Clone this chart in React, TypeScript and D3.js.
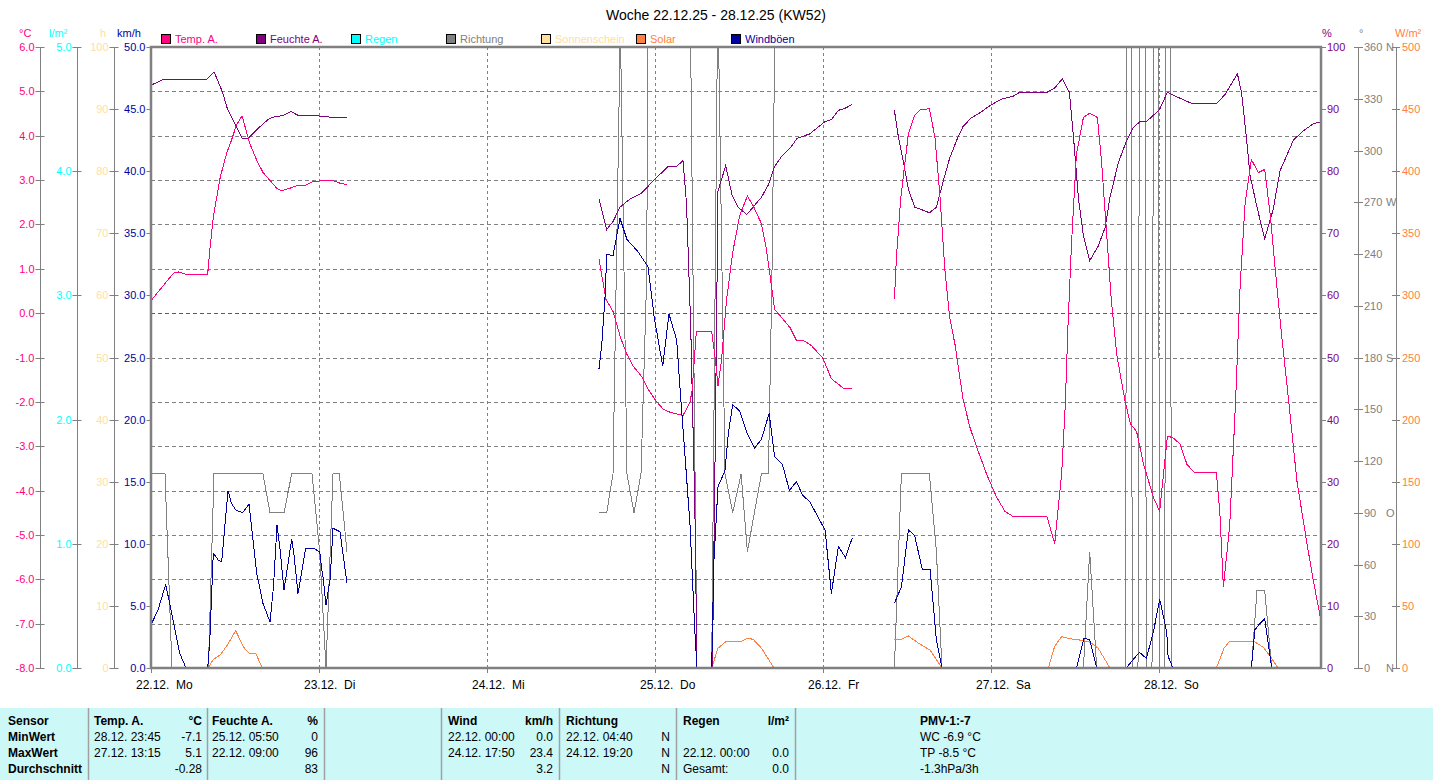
import * as d3 from "d3";

type Pt = [number, number | null];

// time is given in hours since 22.12. 00:00
const title = "Woche 22.12.25 - 28.12.25 (KW52)";
const dayLabels = ["22.12.  Mo", "23.12.  Di", "24.12.  Mi", "25.12.  Do", "26.12.  Fr", "27.12.  Sa", "28.12.  So"];

const tempA: Pt[] = [
  [0.1, 0.3], [1.8, 0.63], [3.2, 0.9], [4.0, 0.93], [4.9, 0.88], [8.1, 0.88], [8.4, 1.42], [8.9, 2.17], [9.9, 3.07],
  [10.8, 3.6], [11.5, 3.9], [12.2, 4.24], [13.0, 4.45], [14.1, 3.83], [15.1, 3.45], [16.0, 3.17], [18.0, 2.81],
  [18.7, 2.76], [20.1, 2.83], [21.0, 2.88], [22.0, 2.88], [23.0, 2.96], [24.6, 2.99], [26.0, 2.99], [27.0, 2.93], [28.0, 2.9],
  [28.1, null],
  [64.0, 1.21], [65.0, 0.31], [66.0, 0.04], [67.1, -0.56], [68.0, -0.93], [68.9, -1.2], [70.1, -1.43], [71.0, -1.71],
  [72.2, -1.99], [73.2, -2.17], [74.1, -2.23], [76.0, -2.31], [77.0, -2.0], [77.3, -1.75], [77.9, -0.42], [80.1, -0.42],
  [80.6, -1.02], [81.0, -1.64], [81.5, -1.06], [82.2, 0.27], [83.1, 1.37], [84.1, 2.2], [85.2, 2.64], [86.0, 2.43],
  [87.2, 2.02], [87.9, 1.46], [88.7, 0.54], [89.1, 0.08], [90.1, -0.1], [91.3, -0.33], [92.2, -0.61], [93.4, -0.63],
  [94.4, -0.74], [96.0, -1.02], [97.2, -1.48], [98.2, -1.6], [99.0, -1.71], [100.1, -1.71],
  [100.2, null],
  [106.2, 0.31], [106.5, 1.28], [107.1, 2.57], [107.5, 3.12], [108.2, 4.04], [109.1, 4.46], [109.9, 4.58], [111.2, 4.61],
  [112.0, 3.95], [112.7, 2.66], [113.4, 1.0], [114.1, -0.1], [114.9, -0.74], [116.0, -1.94], [117.0, -2.58], [118.0, -3.04],
  [119.4, -3.64], [120.8, -4.15], [122.0, -4.47], [123.2, -4.59], [128.0, -4.59], [129.1, -5.2], [130.1, -3.6],
  [130.6, -2.12], [131.0, -0.28], [131.5, 1.56], [132.2, 3.58], [133.2, 4.41], [134.1, 4.51], [135.2, 4.41], [135.8, 3.4],
  [136.5, 1.83], [137.2, 0.27], [138.0, -0.97], [139.1, -1.94], [139.9, -2.49], [140.8, -2.67], [141.8, -3.41],
  [142.5, -3.78], [143.2, -4.15], [144.1, -4.47], [144.6, -3.69], [145.2, -2.77], [146.0, -2.81], [147.0, -2.95],
  [148.0, -3.41], [149.1, -3.6], [152.2, -3.6], [152.7, -4.52], [153.2, -6.17], [154.1, -4.79], [154.9, -2.12],
  [155.6, 0.64], [156.3, 2.48], [157.2, 3.46], [158.2, 3.17], [159.1, 3.24], [159.9, 2.2], [160.6, 1.0], [161.5, -0.47],
  [162.5, -1.94], [163.7, -3.78], [165.1, -5.16], [166.0, -5.99], [167.0, -6.82],
];

const feuchteA: Pt[] = [
  [0.1, 93.9], [1.8, 94.8], [8.0, 94.8], [9.0, 96.0], [10.2, 92.8], [10.9, 90.1], [13.0, 85.3], [13.9, 85.3], [15.6, 87.2],
  [16.8, 88.4], [17.5, 88.7], [18.9, 89.0], [20.0, 89.6], [21.0, 89.0], [22.5, 89.0], [25.1, 88.8], [26.0, 88.6], [28.0, 88.6],
  [28.1, null],
  [64.0, 75.5], [65.1, 70.6], [66.0, 71.9], [67.0, 74.2], [68.4, 75.5], [70.1, 76.5], [71.8, 78.5], [73.9, 80.8],
  [75.1, 80.8], [76.0, 81.7], [76.5, 74.8], [77.1, 55.1], [77.7, 25.5], [78.0, 0], [80.2, 0], [80.6, 35.4], [81.0, 76.8],
  [82.1, 80.9], [83.0, 76.2], [83.9, 74.2], [85.1, 73.0], [86.0, 74.2], [87.2, 75.8], [88.2, 77.8], [89.1, 80.8],
  [90.1, 82.4], [91.3, 83.7], [92.3, 85.3], [94.1, 86.0], [96.3, 88.0], [97.2, 88.3], [98.2, 89.8], [99.1, 90.1], [100.1, 90.7],
  [100.2, null],
  [106.2, 89.8], [106.8, 85.3], [107.5, 81.4], [108.2, 77.1], [109.1, 74.2], [110.1, 73.8], [111.2, 73.3], [112.2, 74.2],
  [113.2, 78.5], [114.1, 82.1], [115.1, 85.0], [116.0, 87.2], [117.2, 88.6], [118.4, 89.4], [119.9, 90.6], [121.5, 91.6],
  [123.2, 92.1], [124.1, 92.7], [128.0, 92.7], [129.1, 93.4], [130.2, 94.9], [131.2, 92.7], [131.8, 85.3], [132.5, 75.5],
  [133.2, 69.6], [134.1, 65.6], [135.3, 67.9], [136.3, 70.9], [137.0, 75.8], [138.2, 81.4], [139.4, 85.0], [140.3, 87.0],
  [141.3, 88.0], [142.2, 88.0], [143.2, 89.0], [144.1, 90.0], [145.2, 92.7], [146.3, 92.1], [148.7, 90.9], [152.2, 90.9],
  [153.4, 92.3], [155.2, 95.7], [155.8, 92.6], [156.5, 85.3], [157.0, 79.4], [158.0, 74.2], [159.1, 69.1], [160.3, 73.8],
  [161.3, 80.1], [162.2, 82.4], [163.2, 85.0], [164.6, 86.5], [166.0, 87.6], [167.2, 88.0],
];

const richtung: Pt[] = [
  [0.1, 112.5], [2.0, 112.5], [3.0, 0], [8.2, 0], [9.0, 112.5], [16.0, 112.5], [17.0, 90], [19.0, 90], [20.1, 112.5],
  [23.0, 112.5], [24.1, 67.5], [25.0, 0], [26.0, 112.5], [26.9, 112.5], [28.0, 67.5],
  [28.1, null],
  [64.0, 90], [65.1, 90], [66.0, 112.5], [67.0, 360], [67.1, 360], [68.0, 112.5], [69.0, 90], [70.0, 112.5], [70.8, 225],
  [71.0, 360], [77.1, 360], [78.0, 0], [80.1, 0], [80.9, 360], [81.1, 360], [82.0, 112.5], [83.1, 90], [84.3, 112.5],
  [85.2, 67.5], [87.2, 112.5], [88.2, 112.5], [88.7, 225], [89.1, 360], [100.1, 360],
  [100.2, null],
  [106.2, 0], [107.2, 112.5], [111.2, 112.5], [112.2, 67.5], [113.0, 0], [133.2, 0], [134.1, 67.5], [135.1, 0],
  [139.2, 0], [139.4, 360], [140.0, 360], [140.2, 0], [141.0, 0], [141.2, 360], [142.0, 360], [142.2, 0], [143.0, 0],
  [143.2, 360], [143.9, 360], [144.1, 0], [144.8, 0], [145.0, 360], [145.6, 360], [145.8, 0], [157.2, 0], [158.0, 45],
  [159.1, 45], [160.1, 0], [167.2, 0],
];

const solar: Pt[] = [
  [8.2, 0], [8.9, 7], [9.9, 10.5], [10.9, 18.5], [12.1, 30], [13.2, 17], [14.1, 11.3], [15.0, 11.3], [15.9, 0],
  [16.0, null],
  [80.1, 0], [81.0, 16], [82.2, 21.6], [84.4, 21.6], [85.1, 23.8], [86.0, 23.2], [87.2, 16], [89.0, 0],
  [89.1, null],
  [106.2, 23.2], [107.0, 22.5], [108.2, 25.8], [109.4, 20.9], [111.3, 14.3], [113.0, 0],
  [113.1, null],
  [128.2, 0], [129.1, 17.6], [130.1, 25.2], [131.3, 23.5], [132.7, 22.5], [134.1, 20.9], [135.3, 16], [137.0, 0],
  [137.1, null],
  [152.2, 0], [153.3, 16], [154.1, 21.6], [157.5, 21.6], [158.9, 16.7], [159.9, 9.4], [161.0, 0],
];

const windboeen: Pt[] = [
  [0.1, 3.6], [1.0, 4.67], [2.1, 6.74], [3.0, 4.27], [4.1, 1.18], [5.0, 0], [8.1, 0], [8.2, 0.64], [8.4, 2.25], [8.9, 9.24],
  [9.6, 8.7], [10.1, 8.56], [11.0, 14.28], [11.5, 13.26], [12.1, 12.72], [13.1, 12.5], [14.0, 13.2], [15.1, 7.62],
  [16.0, 5.2], [17.0, 3.72], [17.5, 6.55], [18.0, 11.5], [18.4, 9.77], [19.0, 6.28], [20.1, 10.36], [20.4, 9.24],
  [21.0, 6.0], [22.1, 9.64], [23.2, 9.64], [24.1, 9.36], [24.4, 7.9], [24.6, 7.2], [25.0, 5.07], [25.6, 7.2],
  [26.0, 11.25], [27.0, 10.97], [28.0, 6.82],
  [28.1, null],
  [64.0, 24.1], [64.4, 26.1], [64.9, 30.2], [65.1, 33.3], [66.0, 33.2], [66.3, 34.1], [67.0, 36.2], [68.0, 34.5],
  [69.6, 33.5], [71.0, 32.3], [71.9, 28.2], [73.1, 24.3], [74.0, 28.5], [75.1, 26.4], [75.6, 22.3], [76.3, 17.0],
  [77.0, 11.5], [77.7, 2.9], [78.0, 0], [80.1, 0], [80.4, 8.5], [81.0, 14.6], [82.0, 15.9], [82.5, 19.0], [83.1, 21.2],
  [84.1, 20.7], [85.1, 19.0], [86.2, 17.7], [87.2, 18.4], [88.3, 20.5], [89.1, 17.0], [90.2, 16.4], [91.2, 14.3],
  [92.2, 15.0], [93.1, 13.9], [94.1, 13.4], [96.3, 11.1], [97.2, 6.0], [98.2, 9.8], [99.2, 8.9], [100.2, 10.5],
  [100.3, null],
  [106.2, 5.21], [107.2, 6.52], [108.2, 11.13], [109.1, 10.64], [110.2, 7.91], [111.3, 7.91], [112.2, 2.25], [113.0, 0],
  [132.2, 0], [133.3, 2.42], [134.1, 2.25], [135.1, 0], [139.3, 0], [141.2, 1.27], [142.2, 0.77], [143.2, 2.91],
  [144.1, 5.54], [145.1, 2.91], [145.3, 0.94], [146.0, 0], [157.2, 0], [157.7, 3.08], [158.4, 3.57], [159.1, 3.96],
  [160.1, 0], [167.2, 0],
];

const tempTicks = [6, 5, 4, 3, 2, 1, 0, -1, -2, -3, -4, -5, -6, -7, -8];
const rainTicks = [5, 4, 3, 2, 1, 0];
const sunTicks = [100, 90, 80, 70, 60, 50, 40, 30, 20, 10, 0];
const windTicks = [50, 45, 40, 35, 30, 25, 20, 15, 10, 5, 0];
const humTicks = [100, 90, 80, 70, 60, 50, 40, 30, 20, 10, 0];
const dirTicks = [360, 330, 300, 270, 240, 210, 180, 150, 120, 90, 60, 30, 0];
const dirNames: Record<number, string> = { 360: "N", 270: "W", 180: "S", 90: "O", 0: "N" };
const solarTicks = [500, 450, 400, 350, 300, 250, 200, 150, 100, 50, 0];

const legendItems = [
  { name: "Temp. A.", color: "#ff0080" },
  { name: "Feuchte A.", color: "#800080" },
  { name: "Regen", color: "#00ffff" },
  { name: "Richtung", color: "#808080" },
  { name: "Sonnenschein", color: "#ffe0a0" },
  { name: "Solar", color: "#ff8040" },
  { name: "Windböen", color: "#0000a0" },
];

const rowLabels = ["Sensor", "MinWert", "MaxWert", "Durchschnitt"];
const tempStats = [["28.12.  23:45", "-7.1"], ["27.12.  13:15", "5.1"], ["", "-0.28"]];
const humStats = [["25.12.  05:50", "0"], ["22.12.  09:00", "96"], ["", "83"]];
const windStats = [["22.12.  00:00", "0.0"], ["24.12.  17:50", "23.4"], ["", "3.2"]];
const dirStats = [["22.12.  04:40", "N"], ["24.12.  19:20", "N"], ["", "N"]];
const rainStats = [["", ""], ["22.12.  00:00", "0.0"], ["Gesamt:", "0.0"]];
const pmvLines = ["PMV-1:-7", "WC -6.9 °C", "TP -8.5 °C", "-1.3hPa/3h"];

const W = 1433;
const H = 780;
const plot = { left: 151, right: 1321, top: 47, bottom: 668 };
const FONT = "'Liberation Sans', Arial, sans-serif";
const NARROW = "'Liberation Sans Narrow', 'Liberation Sans', Arial, sans-serif";

export default function App() {
  const x = d3.scaleLinear().domain([0, 168]).range([plot.left, plot.left + 168 * 7]);
  const yTemp = d3.scaleLinear().domain([-8, 6]).range([plot.bottom, plot.top]);
  const yRain = d3.scaleLinear().domain([0, 5]).range([plot.bottom, plot.top]);
  const ySun = d3.scaleLinear().domain([0, 100]).range([plot.bottom, plot.top]);
  const yWind = d3.scaleLinear().domain([0, 50]).range([plot.bottom, plot.top]);
  const yHum = d3.scaleLinear().domain([0, 100]).range([plot.bottom, plot.top]);
  const yDir = d3.scaleLinear().domain([0, 360]).range([plot.bottom, plot.top]);
  const ySolar = d3.scaleLinear().domain([0, 500]).range([plot.bottom, plot.top]);

  const path = (data: Pt[], y: d3.ScaleLinear<number, number>) =>
    d3
      .line<Pt>()
      .defined((d) => d[1] !== null)
      .x((d) => x(d[0]))
      .y((d) => y(d[1] as number))(data) ?? "";

  const leftAxes = [
    { ax: 40.5, ticks: tempTicks, scale: yTemp, color: "#ff0080", fmt: (v: number) => v.toFixed(1), unit: "°C", ux: 19 },
    { ax: 77.5, ticks: rainTicks, scale: yRain, color: "#00ffff", fmt: (v: number) => v.toFixed(1), unit: "l/m²", ux: 49 },
    { ax: 114.5, ticks: sunTicks, scale: ySun, color: "#ffe0a0", fmt: (v: number) => String(v), unit: "h", ux: 100 },
    { ax: 151.5, ticks: windTicks, scale: yWind, color: "#0000a0", fmt: (v: number) => v.toFixed(1), unit: "km/h", ux: 117 },
  ];

  const gridTemps = tempTicks.filter((t) => t !== 6 && t !== -8 && t !== 0);
  const tableSeps = [88, 207, 324, 441, 559, 676, 795];
  const statCols = [
    { head: "Temp. A.", unit: "°C", x0: 94, x1: 202, rows: tempStats },
    { head: "Feuchte A.", unit: "%", x0: 212, x1: 318, rows: humStats },
    { head: "Wind", unit: "km/h", x0: 448, x1: 553, rows: windStats },
    { head: "Richtung", unit: "", x0: 566, x1: 670, rows: dirStats },
    { head: "Regen", unit: "l/m²", x0: 683, x1: 789, rows: rainStats },
  ];
  const rowY = [725, 741, 757, 773];

  return (
    <div style={{ position: "absolute", left: 0, top: 0 }}>
      <svg width={W} height={H} style={{ display: "block", background: "#fff" }}>
        <defs>
          <clipPath id="plotclip">
            <rect x={plot.left} y={plot.top} width={plot.right - plot.left} height={plot.bottom - plot.top} />
          </clipPath>
        </defs>
        <text x={716} y={20} textAnchor="middle" fontFamily={FONT} fontSize={14} fill="#000">
          {title}
        </text>

        {/* units */}
        {leftAxes.map((a) => (
          <text key={a.unit} x={a.ux} y={37} fontFamily={FONT} fontSize={11} fill={a.color}>
            {a.unit}
          </text>
        ))}
        <text x={1322} y={37} fontFamily={FONT} fontSize={11} fill="#800080">%</text>
        <text x={1359} y={37} fontFamily={FONT} fontSize={11} fill="#808080">°</text>
        <text x={1395} y={37} fontFamily={FONT} fontSize={11} fill="#ff8040">W/m²</text>

        {/* legend */}
        {legendItems.map((it, i) => (
          <g key={it.name} transform={`translate(${161 + i * 95},34)`}>
            <rect x={0.5} y={0.5} width={9} height={9} fill={it.color} stroke="#000" strokeWidth={1} />
            <text x={14} y={8.5} fontFamily={FONT} fontSize={11} fill={it.color}>
              {it.name}
            </text>
          </g>
        ))}

        {/* left axes */}
        {leftAxes.map((a) => (
          <g key={a.unit}>
            {a.ax < 150 && <line x1={a.ax} x2={a.ax} y1={plot.top} y2={plot.bottom} stroke="#808080" />}
            {a.ticks.map((t) => (
              <g key={t}>
                <line x1={a.ax - 5} x2={a.ax + (a.ax < 150 ? 4 : 0)} y1={Math.round(a.scale(t)) + 0.5} y2={Math.round(a.scale(t)) + 0.5} stroke="#808080" />
                <text x={a.ax - 6} y={a.scale(t) + 4} textAnchor="end" fontFamily={FONT} fontSize={11} fill={a.color}>
                  {a.fmt(t)}
                </text>
              </g>
            ))}
          </g>
        ))}

        {/* right axes */}
        {humTicks.map((t) => (
          <g key={"h" + t}>
            <line x1={plot.right} x2={plot.right + 5} y1={Math.round(yHum(t)) + 0.5} y2={Math.round(yHum(t)) + 0.5} stroke="#808080" />
            <text x={1327} y={yHum(t) + 4} fontFamily={FONT} fontSize={11} fill="#800080">{t}</text>
          </g>
        ))}
        <line x1={1358.5} x2={1358.5} y1={plot.top} y2={plot.bottom} stroke="#808080" />
        {dirTicks.map((t) => (
          <g key={"d" + t}>
            <line x1={1354} x2={1363} y1={Math.round(yDir(t)) + 0.5} y2={Math.round(yDir(t)) + 0.5} stroke="#808080" />
            <text x={1364} y={yDir(t) + 4} fontFamily={FONT} fontSize={11} fill="#808080">{t}</text>
            {dirNames[t] && (
              <text x={1386} y={yDir(t) + 4} fontFamily={FONT} fontSize={11} fill="#808080">{dirNames[t]}</text>
            )}
          </g>
        ))}
        <line x1={1396.5} x2={1396.5} y1={plot.top} y2={plot.bottom} stroke="#808080" />
        {solarTicks.map((t) => (
          <g key={"s" + t}>
            <line x1={1392} x2={1400} y1={Math.round(ySolar(t)) + 0.5} y2={Math.round(ySolar(t)) + 0.5} stroke="#808080" />
            <text x={1402} y={ySolar(t) + 4} fontFamily={FONT} fontSize={11} fill="#ff8040">{t}</text>
          </g>
        ))}

        {/* grid */}
        {gridTemps.map((t) => (
          <line key={"g" + t} x1={plot.left} x2={plot.right} y1={Math.round(yTemp(t)) + 0.5} y2={Math.round(yTemp(t)) + 0.5}
            stroke="#808080" strokeDasharray="4,3" />
        ))}
        {dayLabels.slice(1).map((_, i) => (
          <line key={"v" + i} x1={Math.round(x((i + 1) * 24)) + 0.5} x2={Math.round(x((i + 1) * 24)) + 0.5} y1={plot.top} y2={plot.bottom}
            stroke="#808080" strokeDasharray="3,3" />
        ))}
        <line x1={plot.left} x2={plot.right} y1={Math.round(yTemp(0)) + 0.5} y2={Math.round(yTemp(0)) + 0.5} stroke="#ff0080" strokeDasharray="4,3" />

        {/* series */}
        <g clipPath="url(#plotclip)" fill="none" strokeWidth={1} shapeRendering="crispEdges">
          <path d={path(richtung, yDir)} stroke="#808080" />
          <path d={path(solar, ySolar)} stroke="#ff8040" />
          <path d={path(feuchteA, yHum)} stroke="#800080" />
          <path d={path(tempA, yTemp)} stroke="#ff0080" />
          <path d={path(windboeen, yWind)} stroke="#0000a0" />
        </g>

        {/* frame */}
        <rect x={plot.left} y={plot.top} width={plot.right - plot.left} height={plot.bottom - plot.top} fill="none" stroke="#808080" strokeWidth={2.5} />

        {/* day labels */}
        {dayLabels.map((d, i) => (
          <g key={d}>
            <line x1={Math.round(x(i * 24)) + 0.5} x2={Math.round(x(i * 24)) + 0.5} y1={plot.bottom} y2={plot.bottom + 5} stroke="#808080" />
            <text x={x(i * 24) - 15} y={689} fontFamily={FONT} fontSize={12} fill="#000" style={{ whiteSpace: "pre" }}>
              {d}
            </text>
          </g>
        ))}

        {/* table */}
        <rect x={0} y={708} width={W} height={H - 708} fill="#ccf8f8" />
        {tableSeps.map((s) => (
          <line key={"t" + s} x1={s + 0.5} x2={s + 0.5} y1={708} y2={H} stroke="#a0a0a0" strokeWidth={1.5} />
        ))}
        <g fontFamily={NARROW} fontSize={12} fill="#000" style={{ whiteSpace: "pre" }}>
          {rowLabels.map((r, i) => (
            <text key={r} x={8} y={rowY[i]} fontWeight="bold">{r}</text>
          ))}
          {statCols.map((c) => (
            <g key={c.head}>
              <text x={c.x0} y={rowY[0]} fontWeight="bold">{c.head}</text>
              <text x={c.x1} y={rowY[0]} fontWeight="bold" textAnchor="end">{c.unit}</text>
              {c.rows.map((r, i) => (
                <g key={i}>
                  <text x={c.x0} y={rowY[i + 1]}>{r[0]}</text>
                  <text x={c.x1} y={rowY[i + 1]} textAnchor="end">{r[1]}</text>
                </g>
              ))}
            </g>
          ))}
          {pmvLines.map((p, i) => (
            <text key={p} x={920} y={rowY[i]} fontWeight={i === 0 ? "bold" : "normal"}>{p}</text>
          ))}
        </g>
      </svg>
    </div>
  );
}
